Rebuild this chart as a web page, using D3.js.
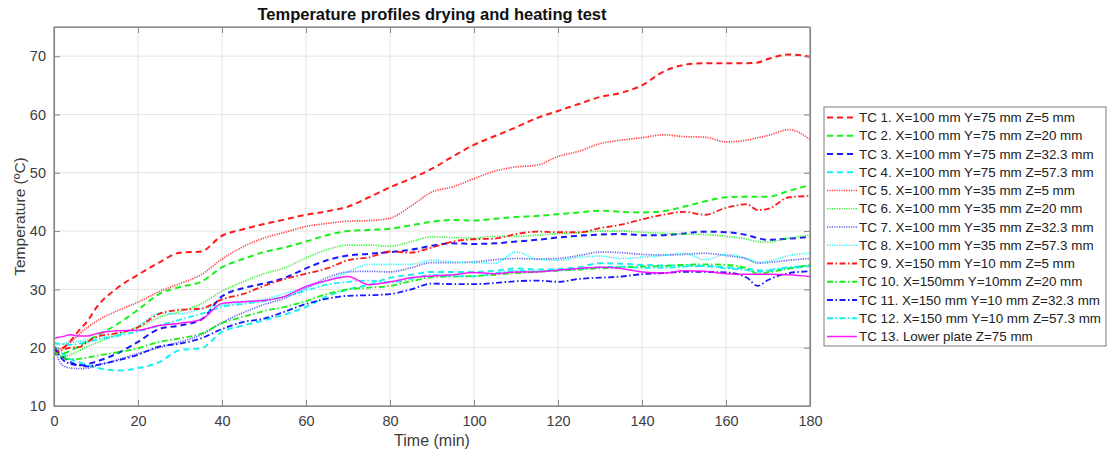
<!DOCTYPE html>
<html>
<head>
<meta charset="utf-8">
<script src="https://cdn.jsdelivr.net/npm/d3@7"></script>
<style>
  body { margin: 0; background: #fff; }
  svg { font-family: "Liberation Sans", Arial, Helvetica, sans-serif; }
</style>
</head>
<body>
<svg id="chart" width="1109" height="457"></svg>
<script>
// Sampling times (min)
const TIME = [0,2,4,6,8,10,15,20,25,30,35,40,45,50,55,60,65,70,75,80,85,90,95,100,105,110,115,120,125,130,135,140,145,150,155,160,165,167.5,170,175,180];

// Thermocouple readings (°C) at each sampling time
const TC1  = [19,19.8,21.2,23,24.6,26.8,30.2,32.5,34.6,36.3,36.5,39.2,40.3,41.2,42,42.8,43.4,44.2,45.8,47.5,49,50.7,52.8,54.8,56.3,57.8,59.4,60.6,61.8,63,63.7,65,67.3,68.5,68.8,68.8,68.8,68.9,69.5,70.3,69.9];
const TC2  = [19.5,19,19.5,20.3,21.2,22,24,26.5,29.2,30.4,31.3,33.8,35.2,36.4,37.2,38.2,39.3,40,40.2,40.4,41,41.6,41.9,41.8,42.1,42.4,42.6,42.9,43.2,43.5,43.3,43.2,43.4,44.2,45.1,45.8,45.9,45.9,45.9,46.9,47.9];
const TC3  = [19.6,18.5,17.5,17,17.2,17.6,19,21,23.2,23.8,24.8,28.8,30.2,31,32,33.6,35,35.8,36.1,36.4,36.8,37.5,37.9,37.8,37.9,38.2,38.5,38.9,39.2,39.4,39.5,39.3,39.3,39.6,39.9,39.8,39.3,38.8,38.5,38.7,39.0];
const TC4  = [20.3,19,18,17.5,17,16.6,16.1,16.5,17.5,19.6,19.9,22.7,23.8,24.7,25.7,27,28.8,30,30.8,32,32.5,33,33,33,33.2,33.6,33.4,33.5,33.8,34.5,34.4,34.2,34.1,34.1,34,33.8,33.5,33.3,33.2,33.6,34];
const TC5  = [19,20,21,22.3,23.5,24.5,26.3,27.8,29.6,31,32.5,35.2,37.3,38.8,39.8,40.8,41.3,41.7,41.8,42.2,44.3,46.7,47.6,49,50.3,51,51.3,52.8,53.7,55,55.6,56,56.5,56.2,56.1,55.3,55.6,56,56.4,57.4,55.7];
const TC6  = [20,18.5,18.8,19.5,20.2,20.8,22.2,23.4,25.2,26.2,27.5,29.7,31.3,32.7,33.7,35.4,36.8,37.6,37.6,37.4,38.2,39,38.9,38.8,39.1,39.1,39.3,39.6,39.7,40,40,39.8,39.6,39.5,39.4,39.1,38.6,38.2,38.1,38.8,39.3];
const TC7  = [20,17,16.5,16.4,16.5,16.9,17.9,19,20,21,22.2,24.3,26,27.4,28.5,30.2,32,33,33.1,33,33.7,34.6,34.6,34.7,35.1,35.3,35.2,35.3,35.8,36.4,36.3,36,35.9,36,36.2,35.8,35.2,34.5,34.6,35,35.3];
const TC8  = [20.5,20.7,20.9,21.1,21.4,21.6,22.2,23.7,25.9,25.8,26.7,27.3,27.8,28.3,29.3,30.3,31.5,33,34.3,34.3,34.3,35,34.7,34.6,34.5,36.4,35.2,35,35.5,35.7,35.3,35.5,35.8,36.2,35.1,36,35.3,34.7,34.8,35.8,36.2];
const TC9  = [18.7,19.6,20,20.1,21,21.8,22.5,23.5,25.8,26.5,26.7,28.3,29.2,30.6,31.8,32.7,33.6,35,35.5,36.5,36.3,37.2,38.2,38.6,38.7,39.5,39.9,39.8,39.8,40.5,41.1,42,42.8,43.3,42.8,44,44.6,43.6,43.8,45.8,46];
const TC10 = [19.5,18.3,18,18.1,18.3,18.6,19.2,19.9,21,21.6,22.4,24.2,25.3,26.3,27,28,29.2,30,30.3,30.6,31.4,32.1,32.2,32.3,32.5,32.8,33,33.2,33.4,33.6,33.8,33.9,34,34.2,34.3,34.2,33.6,32.7,32.9,33.6,34.2];
const TC11 = [20.2,18,17.2,17,16.8,17,17.8,18.8,20.2,20.7,21.6,23.2,24.4,25,26.2,27.5,28.4,28.9,29,29.2,30,31,30.9,30.9,31.1,31.4,31.5,31.3,31.8,32,32.2,32.6,32.8,33,33,32.9,32,30.6,31.6,32.8,33.1];
const TC12 = [20.8,20.6,20.5,20.7,21,21.3,22,22.8,23.8,24.8,25.8,27,27.5,28,28.8,29.8,30.8,31.3,31.5,31.2,31.8,32.5,32.3,32.2,32.8,33.2,33.1,33.3,33.5,33.8,33.9,33.7,33.7,33.9,34,33.6,33.3,33,33.3,33.8,34];
const TC13 = [21.6,21.9,22.2,22,22,22.4,22.9,23,23.8,24.2,24.8,27.6,27.9,28.1,28.8,30.5,31.5,32.2,30.8,31.3,32,32.3,32.5,32.9,32.7,33,33,33.3,33.6,33.8,33.6,33,32.8,33.2,33.1,32.7,32.6,32.6,32.6,32.5,32.2];

const LABELS = [
  "TC 1. X=100 mm Y=75 mm Z=5 mm",
  "TC 2. X=100 mm Y=75 mm Z=20 mm",
  "TC 3. X=100 mm Y=75 mm Z=32.3 mm",
  "TC 4. X=100 mm Y=75 mm Z=57.3 mm",
  "TC 5. X=100 mm Y=35 mm Z=5 mm",
  "TC 6. X=100 mm Y=35 mm Z=20 mm",
  "TC 7. X=100 mm Y=35 mm Z=32.3 mm",
  "TC 8. X=100 mm Y=35 mm Z=57.3 mm",
  "TC 9. X=150 mm Y=10 mm Z=5 mm",
  "TC 10. X=150mm Y=10mm Z=20 mm",
  "TC 11. X=150 mm Y=10 mm Z=32.3 mm",
  "TC 12. X=150 mm Y=10 mm Z=57.3 mm",
  "TC 13. Lower plate Z=75 mm"
];
const X_TICKS = [0,20,40,60,80,100,120,140,160,180];
const Y_TICKS = [10,20,30,40,50,60,70];

// Line styles (colour + dash pattern) for each thermocouple trace
const RED = "#ff0000", GREEN = "#00ee00", BLUE = "#0000ff", CYAN = "#00eeee", MAGENTA = "#ff00ff";
const DASH = "6,4", DOT = "1.2,1.2", DASHDOT = "6,2.5,1.5,2.5";
const STYLES = [
  {c: RED, d: DASH, w: 2}, {c: GREEN, d: DASH, w: 2}, {c: BLUE, d: DASH, w: 2}, {c: CYAN, d: DASH, w: 2},
  {c: RED, d: DOT, w: 1.7}, {c: GREEN, d: DOT, w: 1.7}, {c: "#3333ee", d: DOT, w: 1.7}, {c: CYAN, d: DOT, w: 1.7},
  {c: RED, d: DASHDOT, w: 1.8}, {c: GREEN, d: DASHDOT, w: 1.8}, {c: BLUE, d: DASHDOT, w: 1.8}, {c: CYAN, d: DASHDOT, w: 1.8},
  {c: MAGENTA, d: null, w: 1.5}
];

const SERIES = [TC1, TC2, TC3, TC4, TC5, TC6, TC7, TC8, TC9, TC10, TC11, TC12, TC13];

const svg = d3.select("#chart");
const plot = {left: 54, right: 810, top: 27, bottom: 406};

const x = d3.scaleLinear().domain([0, 180]).range([plot.left, plot.right]);
const y = d3.scaleLinear().domain([10, 75]).range([plot.bottom, plot.top]);

const AXIS = "#8a8a8a", LABEL = "#3c3c3c", GRID = "#e4e4e4";

// grid
const g = svg.append("g");
g.selectAll("line.vg").data(X_TICKS).join("line")
  .attr("x1", d => x(d)).attr("x2", d => x(d))
  .attr("y1", plot.top).attr("y2", plot.bottom)
  .attr("stroke", GRID).attr("stroke-width", 1);
g.selectAll("line.hg").data(Y_TICKS).join("line")
  .attr("x1", plot.left).attr("x2", plot.right)
  .attr("y1", d => y(d)).attr("y2", d => y(d))
  .attr("stroke", GRID).attr("stroke-width", 1);

// traces
svg.append("clipPath").attr("id", "clip").append("rect")
  .attr("x", plot.left).attr("y", plot.top)
  .attr("width", plot.right - plot.left).attr("height", plot.bottom - plot.top);

const line = d3.line().x((d, i) => x(TIME[i])).y(d => y(d)).curve(d3.curveMonotoneX);
const traces = svg.append("g").attr("clip-path", "url(#clip)");
SERIES.forEach((s, k) => {
  const st = STYLES[k];
  traces.append("path").datum(s)
    .attr("d", line)
    .attr("fill", "none")
    .attr("stroke", st.c)
    .attr("stroke-width", st.w)
    .attr("stroke-dasharray", st.d)
    .attr("opacity", st.d === DOT ? 0.75 : 0.9);
});

// axes (ticks inward, box on all four sides)
const tick = 6;
const xAxisB = d3.axisBottom(x).tickValues(X_TICKS).tickSizeInner(-tick).tickSizeOuter(0).tickPadding(10);
const xAxisT = d3.axisTop(x).tickValues(X_TICKS).tickSizeInner(-tick).tickSizeOuter(0).tickFormat("");
const yAxisL = d3.axisLeft(y).tickValues(Y_TICKS).tickSizeInner(-tick).tickSizeOuter(0).tickPadding(8);
const yAxisR = d3.axisRight(y).tickValues(Y_TICKS).tickSizeInner(-tick).tickSizeOuter(0).tickFormat("");

function styleAxis(sel) {
  sel.select(".domain").attr("stroke", AXIS).attr("stroke-width", 1.2);
  sel.selectAll(".tick line").attr("stroke", AXIS).attr("stroke-width", 1);
  sel.selectAll(".tick text").attr("fill", LABEL).attr("font-size", 14.5)
    .attr("font-family", "'Liberation Sans', Arial, sans-serif");
}
svg.append("g").attr("transform", `translate(0,${plot.bottom})`).call(xAxisB).call(styleAxis);
svg.append("g").attr("transform", `translate(0,${plot.top})`).call(xAxisT).call(styleAxis);
svg.append("g").attr("transform", `translate(${plot.left},0)`).call(yAxisL).call(styleAxis);
svg.append("g").attr("transform", `translate(${plot.right},0)`).call(yAxisR).call(styleAxis);

// corner-complete box
svg.append("rect").attr("x", plot.left).attr("y", plot.top)
  .attr("width", plot.right - plot.left).attr("height", plot.bottom - plot.top)
  .attr("fill", "none").attr("stroke", AXIS).attr("stroke-width", 1.2);

// titles
svg.append("text").attr("x", (plot.left + plot.right) / 2).attr("y", 20)
  .attr("text-anchor", "middle").attr("font-size", 16.5).attr("font-weight", "bold")
  .attr("fill", "#111").text("Temperature profiles drying and heating test");
svg.append("text").attr("x", (plot.left + plot.right) / 2).attr("y", 446)
  .attr("text-anchor", "middle").attr("font-size", 16).attr("fill", LABEL).text("Time (min)");
svg.append("text").attr("transform", `translate(25,${(plot.top + plot.bottom) / 2}) rotate(-90)`)
  .attr("text-anchor", "middle").attr("font-size", 15.5).attr("fill", LABEL).text("Temperature (ºC)");

// legend
const leg = {x: 824, y: 107, w: 282, h: 239, row: 18.25, first: 117.5};
svg.append("rect").attr("x", leg.x).attr("y", leg.y).attr("width", leg.w).attr("height", leg.h)
  .attr("fill", "#fff").attr("stroke", "#7a7a7a").attr("stroke-width", 1);
const items = svg.append("g").selectAll("g").data(LABELS).join("g")
  .attr("transform", (d, i) => `translate(0,${leg.first + i * leg.row})`);
items.append("line")
  .attr("x1", leg.x + 3).attr("x2", leg.x + 33).attr("y1", 0).attr("y2", 0)
  .attr("stroke", (d, i) => STYLES[i].c)
  .attr("stroke-width", (d, i) => STYLES[i].w)
  .attr("stroke-dasharray", (d, i) => STYLES[i].d)
  .attr("opacity", (d, i) => STYLES[i].d === DOT ? 0.75 : 0.9);
items.append("text")
  .attr("x", leg.x + 35).attr("y", 0).attr("dy", "0.35em")
  .attr("font-size", 13.4).attr("fill", "#222").text(d => d);
</script>
</body>
</html>
